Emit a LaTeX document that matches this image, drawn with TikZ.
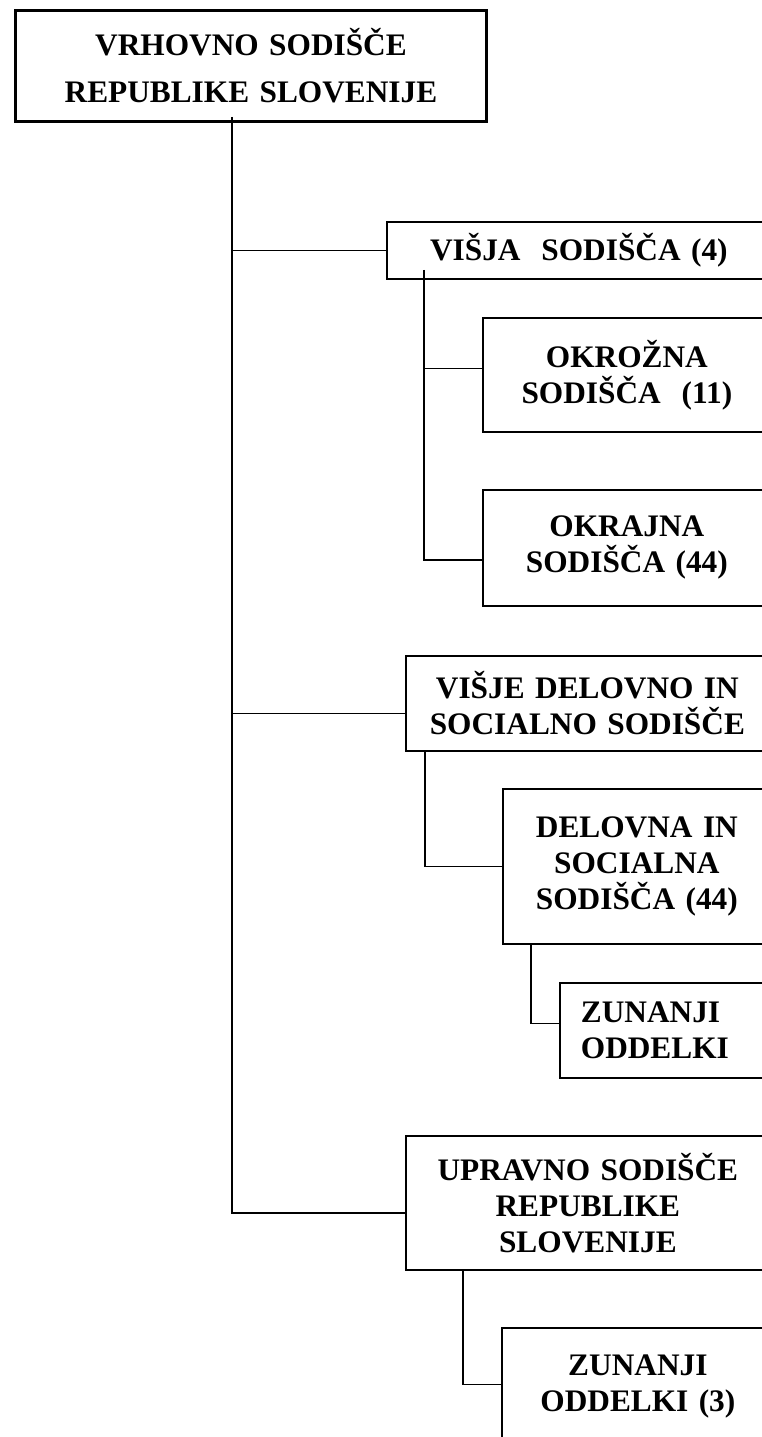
\documentclass[tikz,border=0pt]{standalone}
\usepackage{fontspec}
\setmainfont{Liberation Serif}
\usetikzlibrary{positioning}

\tikzset{
  sodisce/.style={draw, line width=1.3pt, inner sep=0pt, anchor=north west,
    align=center, font=\fontsize{23.5}{27}\selectfont\bfseries},
  povezava/.style={line width=1pt},
}

\begin{document}
\begin{tikzpicture}[x=0.75pt, y=-0.75pt]
    \useasboundingbox (0,0) rectangle (762,1437);
    \clip (0,0) rectangle (762,1437);
%    \draw [color=gray] [step=10] (0,0) grid (762,1437);

    \node[sodisce, line width=2.2pt, minimum width=353.25pt, minimum height=83.25pt,
          text width=353.25pt, font=\fontsize{23.5}{35}\selectfont\bfseries]
          (vrh) at (14,9) {VRHOVNO SODIŠČE\\REPUBLIKE SLOVENIJE};

    \node[sodisce, minimum width=288pt, minimum height=42.75pt, text width=288pt]
          (visja) at (386,221) {VIŠJA\ \ SODIŠČA (4)};
    \node[sodisce, minimum width=216pt, minimum height=85.5pt, text width=216pt]
          (okroz) at (482,317) {OKROŽNA\\SODIŠČA\ \ (11)};
    \node[sodisce, minimum width=216pt, minimum height=87pt, text width=216pt]
          (okraj) at (482,489) {OKRAJNA\\SODIŠČA (44)};

    \node[sodisce, minimum width=272.25pt, minimum height=71.25pt, text width=272.25pt]
          (visje) at (405,655) {VIŠJE DELOVNO IN\\SOCIALNO SODIŠČE};
    \node[sodisce, minimum width=201pt, minimum height=116.25pt, text width=201pt]
          (delovna) at (502,788) {DELOVNA IN\\SOCIALNA\\SODIŠČA (44)};
    \node[sodisce, align=left, inner xsep=15.75pt, minimum width=158.25pt,
          minimum height=71.25pt, text width=126.75pt]
          (zun1) at (559,982) {ZUNANJI\\ODDELKI};

    \node[sodisce, minimum width=273pt, minimum height=100.5pt, text width=273pt]
          (uprav) at (405,1135) {UPRAVNO SODIŠČE\\REPUBLIKE\\SLOVENIJE};
    \node[sodisce, minimum width=204pt, minimum height=88.5pt, text width=204pt]
          (zun2) at (501,1327) {ZUNANJI\\ODDELKI (3)};

    % pritrdilne tocke
    \coordinate (t0) at (232,117);
    \coordinate (b2) at ([yshift=-7.5pt]visje.west);
    \coordinate (b3) at ([yshift=-7.5pt]uprav.west);
    \coordinate (s1) at (424,270);
    \coordinate (s2) at (425,0);
    \coordinate (s3) at (531,0);
    \coordinate (s4) at (463,0);
    \coordinate (c1) at ([yshift=5pt]okroz.west);
    \coordinate (c2) at ([yshift=-9pt]okraj.west);
    \coordinate (c3) at ([yshift=5pt]zun1.west);
    \coordinate (c4) at ([yshift=2pt]zun2.west);

    % glavna linija
    \draw[povezava] (t0) |- (b3);
    \draw[povezava] (t0 |- visja.west) -- (visja.west);
    \draw[povezava] (t0 |- b2) -- (b2);

    % visja sodisca
    \draw[povezava] (s1) |- (c2);
    \draw[povezava] (s1 |- c1) -- (c1);

    % delovna sodisca
    \draw[povezava] (visje.south -| s2) |- (delovna.west);
    \draw[povezava] (delovna.south -| s3) |- (c3);

    % upravno sodisce
    \draw[povezava] (uprav.south -| s4) |- (c4);
\end{tikzpicture}
\end{document}
